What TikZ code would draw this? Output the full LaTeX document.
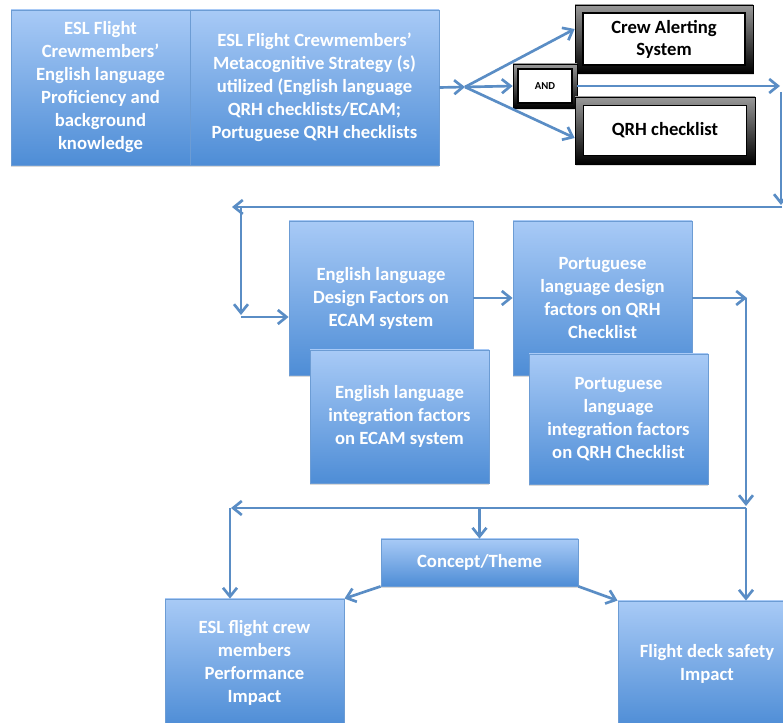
\documentclass[tikz,border=0pt]{standalone}
\usepackage{fontspec}
\setmainfont{Carlito}
\usetikzlibrary{arrows.meta,shadows}

\definecolor{linkblue}{RGB}{90,141,197}
\definecolor{boxtop}{RGB}{168,202,246}
\definecolor{boxbot}{RGB}{78,141,214}
\definecolor{boxedge}{RGB}{108,156,212}

\tikzset{
  px/.style 2 args={minimum width=#1*0.75pt, minimum height=#2*0.75pt},
  bluebox/.style={draw=boxedge, line width=0.6pt, top color=boxtop, bottom color=boxbot,
    text=white, align=center, inner sep=0pt,
    font=\fontsize{14}{17.25}\selectfont\bfseries,
    drop shadow={shadow xshift=0pt, shadow yshift=-1.6pt, opacity=0.3}},
  framebox/.style={draw=black, line width=0.5pt, top color=black!40, bottom color=black,
    inner sep=0pt, align=center, text=black,
    drop shadow={shadow xshift=0.5pt, shadow yshift=-1.5pt, opacity=0.25},
    path picture={\path[fill=white, draw=black, line width=1pt]
      ([shift={(#1*0.75pt,-#1*0.75pt)}]path picture bounding box.north west) rectangle
      ([shift={(-#1*0.75pt,#1*0.75pt)}]path picture bounding box.south east);}},
  link/.style={draw=linkblue, line width=2pt},
  arr/.style={link, -{Straight Barb[length=6.5pt,width=10.5pt]}},
}

\begin{document}
\begin{tikzpicture}[x=0.75pt,y=-0.75pt]
\useasboundingbox (0,0) rectangle (783,723);

% top row: background and strategy
\node[bluebox, px={179}{155}] (a) at (100.5,87.5)
  {ESL Flight\\Crewmembers’\\English language\\Proficiency and\\background\\knowledge};
\node[bluebox, px={249}{155}] (b) at (314.5,87.5)
  {ESL Flight Crewmembers’\\Metacognitive Strategy (s)\\utilized (English language\\QRH checklists/ECAM;\\Portuguese QRH checklists};

% framed outputs
\node[framebox=8, px={178}{68}, font=\fontsize{14}{16.5}\selectfont\bfseries] (cas) at (664,39)
  {Crew Alerting\\System};
\node[framebox=5, px={64}{44}, font=\fontsize{8}{9}\selectfont\bfseries] (and) at (545,86) {AND};
\node[framebox=8.5, px={180}{67}, font=\fontsize{14}{16.5}\selectfont\bfseries] (qrh) at (665,130.5)
  {QRH checklist};

% design and integration factors
\node[bluebox, px={184}{154}] (c) at (381,298)
  {English language\\Design Factors on\\ECAM system};
\node[bluebox, px={179}{133}] (d) at (399.5,416.5)
  {English language\\integration factors\\on ECAM system};
\node[bluebox, px={179}{154}] (e) at (602.5,298)
  {Portuguese\\language design\\factors on QRH\\Checklist};
\node[bluebox, px={179}{130}] (f) at (618.5,419)
  {Portuguese\\language\\integration factors\\on QRH Checklist};

% outcomes
\node[bluebox, px={197}{47}] (concept) at (479.5,562.5) {Concept/Theme};
\node[bluebox, px={179}{127}] (g) at (254.5,662.5)
  {ESL flight crew\\members\\Performance\\Impact};
\node[bluebox, px={178}{126}] (h) at (707,664)
  {Flight deck safety\\Impact};

% fork after the strategy box
\coordinate (fork) at (465,87);
\draw[arr] (b.east) -- (fork);
\draw[arr] (fork) -- ([yshift=7.5pt]cas.west);
\draw[arr] (fork) -- (and.west);
\draw[arr] (fork) -- ([yshift=-5.6pt]qrh.west);

% return path to the factor boxes
\coordinate (ea) at (780,86);
\coordinate (eb) at (781,92);
\coordinate (ec) at (781,205);
\coordinate (rt) at (782,207);
\coordinate (ed) at (232,207);
\coordinate (le) at (241,207);
\coordinate (lf) at (241,315);
\coordinate (lg) at (241,317);
\draw[arr] (and.east) -- (ea);
\draw[arr] (eb) -- (ec);
\draw[arr] (rt) -- (ed);
\draw[arr] (le) -- (lf);
\draw[arr] (lg) -- (c.west |- lg);
\draw[arr] (c.east) -- (e.west);

% collector on the right and distribution to outcomes
\coordinate (ja) at (747,298);
\coordinate (jv) at (746,298);
\coordinate (jb) at (746,506);
\coordinate (jc) at (746,508);
\coordinate (jd) at (231,508);
\coordinate (je) at (230,508);
\draw[arr] (e.east) -- (ja);
\draw[arr] (jv) -- (jb);
\draw[arr] (jc) -- (jd);
\draw[arr] (je) -- (je |- g.north);
\draw[arr] (concept.north |- jc) -- (concept.north);
\draw[arr] (jc) -- (jc |- h.north);
\draw[arr] (concept.south west) -- (g.north east);
\draw[arr] (concept.south east) -- (h.north west);
\end{tikzpicture}
\end{document}
